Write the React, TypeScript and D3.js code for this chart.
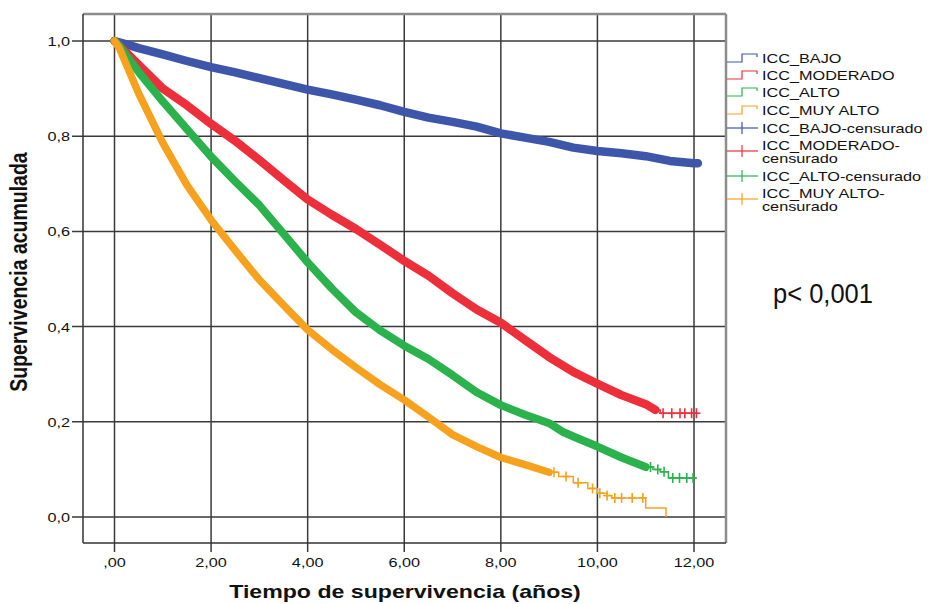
import React from "react";
import * as d3 from "d3";

// ---- data ----
const xTicks = [0, 2, 4, 6, 8, 10, 12];
const xTickLabels = [",00", "2,00", "4,00", "6,00", "8,00", "10,00", "12,00"];
const yTicks = [0, 0.2, 0.4, 0.6, 0.8, 1.0];
const yTickLabels = ["0,0", "0,2", "0,4", "0,6", "0,8", "1,0"];

const seriesNames = ["ICC_BAJO", "ICC_MODERADO", "ICC_ALTO", "ICC_MUY ALTO"];
const seriesColors = ["#3d56aa", "#ec2f3b", "#2bb24c", "#f7a21f"];

// dense part (heavily censored band): [time, survival]
const bajoBand: [number, number][] = [
  [0, 1.0], [0.25, 0.993], [0.5, 0.985], [1, 0.972], [1.5, 0.958], [2, 0.945], [2.5, 0.934],
  [3, 0.922], [3.5, 0.91], [4, 0.898], [4.5, 0.888], [5, 0.877], [5.5, 0.865], [6, 0.851],
  [6.5, 0.839], [7, 0.83], [7.5, 0.82], [8, 0.806], [8.5, 0.797], [9, 0.788], [9.5, 0.776],
  [10, 0.769], [10.5, 0.764], [11, 0.758], [11.5, 0.748], [12, 0.743], [12.08, 0.743],
];
const moderadoBand: [number, number][] = [
  [0, 1.0], [0.25, 0.975], [0.5, 0.95], [1, 0.9], [1.5, 0.865], [2, 0.826], [2.5, 0.79],
  [3, 0.75], [3.5, 0.708], [4, 0.667], [4.5, 0.635], [5, 0.605], [5.5, 0.572], [6, 0.538],
  [6.5, 0.507], [7, 0.47], [7.5, 0.436], [8, 0.408], [8.5, 0.372], [9, 0.336], [9.5, 0.305],
  [10, 0.28], [10.5, 0.256], [11, 0.237], [11.2, 0.225],
];
const altoBand: [number, number][] = [
  [0, 1.0], [0.1, 0.99], [0.5, 0.935], [1, 0.873], [1.5, 0.815], [2, 0.757], [2.5, 0.705],
  [3, 0.655], [3.5, 0.595], [4, 0.535], [4.5, 0.48], [5, 0.43], [5.5, 0.392], [6, 0.36],
  [6.5, 0.332], [7, 0.298], [7.5, 0.262], [8, 0.235], [8.5, 0.215], [9, 0.197], [9.3, 0.178],
  [9.6, 0.165], [10, 0.148], [10.5, 0.125], [11, 0.105],
];
const muyAltoBand: [number, number][] = [
  [0, 1.0], [0.1, 0.985], [0.5, 0.89], [1, 0.786], [1.5, 0.697], [2, 0.624], [2.5, 0.56],
  [3, 0.498], [3.5, 0.445], [4, 0.393], [4.5, 0.352], [5, 0.314], [5.5, 0.278], [6, 0.246],
  [6.5, 0.21], [7, 0.173], [7.5, 0.148], [8, 0.125], [8.5, 0.11], [9, 0.094],
];

// sparse tails: step points [time, survival]
const moderadoTail: [number, number][] = [[11.2, 0.225], [11.3, 0.218], [12.08, 0.218]];
const altoTail: [number, number][] = [[11, 0.105], [11.15, 0.1], [11.3, 0.095], [11.47, 0.082], [12.05, 0.082]];
const muyAltoTail: [number, number][] = [
  [9, 0.094], [9.2, 0.085], [9.5, 0.072], [9.8, 0.06], [10.0, 0.05], [10.2, 0.045],
  [10.3, 0.04], [11.0, 0.019], [11.42, 0.0], [11.42, 0.0],
];

// censored times visible in the tails
const moderadoCensor = [11.36, 11.54, 11.71, 11.81, 11.95, 12.05];
const altoCensor = [11.1, 11.25, 11.38, 11.56, 11.7, 11.85, 11.98];
const muyAltoCensor = [9.1, 9.35, 9.6, 9.9, 10.05, 10.2, 10.36, 10.5, 10.72, 10.94];

const legendLabels = [
  ["ICC_BAJO"], ["ICC_MODERADO"], ["ICC_ALTO"], ["ICC_MUY ALTO"],
  ["ICC_BAJO-censurado"], ["ICC_MODERADO-", "censurado"], ["ICC_ALTO-censurado"], ["ICC_MUY ALTO-", "censurado"],
];

// ---- layout ----
const W = 930, H = 604;
const frame = { left: 83, right: 726, top: 14, bottom: 543 };
const SX = 1.25; // horizontal stretch of the original picture's text
const FONT = "'Liberation Sans', Arial, sans-serif";

const x = d3.scaleLinear().domain([0, 12]).range([114.5, 694]);
const y = d3.scaleLinear().domain([0, 1]).range([517, 41]);

function stepValue(tail: [number, number][], t: number) {
  let v = tail[0][1];
  for (const [tt, s] of tail) if (tt <= t) v = s;
  return v;
}

const STxt = ({ x: tx, y: ty, anchor = "start", size = 13, weight = "normal", children }: any) => (
  <text
    transform={`translate(${tx},${ty}) scale(${SX},1)`}
    textAnchor={anchor}
    fontSize={size}
    fontWeight={weight}
    fontFamily={FONT}
    fill="#111"
  >
    {children}
  </text>
);

export default function App() {
  const lineLin = d3.line<[number, number]>().x((d) => x(d[0])).y((d) => y(d[1]));
  const lineStep = d3.line<[number, number]>().x((d) => x(d[0])).y((d) => y(d[1])).curve(d3.curveStepAfter);

  const bands = [bajoBand, moderadoBand, altoBand, muyAltoBand];
  const tails = [null, moderadoTail, altoTail, muyAltoTail];
  const censors = [[], moderadoCensor, altoCensor, muyAltoCensor];
  const bandWidths = [8.5, 8.5, 8, 7.5];

  const legendY = [58, 75, 92, 110, 128, 151, 176, 199];
  const lineYs = [[58], [75], [92], [110], [128], [145, 158], [176], [193, 206]];

  return (
    <svg width={W} height={H} style={{ display: "block", position: "absolute", left: 0, top: 0 }}>
      <rect x={0} y={0} width={W} height={H} fill="#fff" />
      {/* grid lines */}
      {xTicks.map((t) => (
        <line key={"gx" + t} x1={x(t)} x2={x(t)} y1={frame.top} y2={frame.bottom + 9} stroke="#3a3a3a" strokeWidth={1.5} />
      ))}
      {yTicks.map((t) => (
        <line key={"gy" + t} x1={frame.left - 11} x2={frame.right} y1={y(t)} y2={y(t)} stroke="#3a3a3a" strokeWidth={1.5} />
      ))}
      {/* frame */}
      <line x1={frame.left} x2={frame.right} y1={frame.top} y2={frame.top} stroke="#8c8c8c" strokeWidth={2.5} />
      <line x1={frame.right} x2={frame.right} y1={frame.top} y2={frame.bottom} stroke="#8c8c8c" strokeWidth={2.5} />
      <line x1={frame.left} x2={frame.left} y1={frame.top} y2={frame.bottom} stroke="#333" strokeWidth={1.5} />
      <line x1={frame.left} x2={frame.right} y1={frame.bottom} y2={frame.bottom} stroke="#333" strokeWidth={1.5} />

      {/* curves */}
      {bands.map((b, i) => (
        <g key={"s" + i}>
          <path d={lineLin(b) || ""} fill="none" stroke={seriesColors[i]} strokeWidth={bandWidths[i]} strokeLinejoin="round" strokeLinecap="round" />
          {tails[i] && (
            <path d={lineStep(tails[i] as [number, number][]) || ""} fill="none" stroke={seriesColors[i]} strokeWidth={1.5} />
          )}
          {tails[i] &&
            (censors[i] as number[]).map((c) => {
              const cx = x(c);
              const cy = y(stepValue(tails[i] as [number, number][], c));
              return (
                <g key={c} stroke={seriesColors[i]} strokeWidth={1.6}>
                  <line x1={cx - 4} x2={cx + 4} y1={cy} y2={cy} />
                  <line x1={cx} x2={cx} y1={cy - 5} y2={cy + 5} />
                </g>
              );
            })}
        </g>
      ))}

      {/* axis labels */}
      {yTicks.map((t, i) => (
        <STxt key={"yl" + t} x={70} y={y(t) + 5} anchor="end">{yTickLabels[i]}</STxt>
      ))}
      {xTicks.map((t, i) => (
        <STxt key={"xl" + t} x={x(t)} y={567} anchor="middle">{xTickLabels[i]}</STxt>
      ))}
      <STxt x={405} y={598} anchor="middle" size={18.5} weight="bold">Tiempo de supervivencia (años)</STxt>
      <text
        transform={`translate(27,272) scale(${SX},1) rotate(-90)`}
        textAnchor="middle"
        fontSize={19.5}
        fontWeight="bold"
        fontFamily={FONT}
        fill="#111"
      >
        Supervivencia acumulada
      </text>

      {/* legend */}
      {legendLabels.map((lab, i) => {
        const c = legendY[i];
        const col = seriesColors[i % 4];
        const sym =
          i < 4 ? (
            <path d={`M727,${c + 4}H742V${c - 4}H757V${c - 1}`} fill="none" stroke={col} strokeWidth={1.2} />
          ) : (
            <g stroke={col} strokeWidth={1.2}>
              <line x1={727} x2={758} y1={c} y2={c} />
              <line x1={742} x2={742} y1={c - 6} y2={c + 6} />
            </g>
          );
        return (
          <g key={"lg" + i}>
            {sym}
            {lab.map((l, j) => (
              <STxt key={j} x={762} y={lineYs[i][j] + 5}>{l}</STxt>
            ))}
          </g>
        );
      })}

      {/* p-value */}
      <text x={773} y={303} fontSize={27} fontFamily="'Liberation Sans', Arial, sans-serif" textLength={100} lengthAdjust="spacingAndGlyphs" fill="#111">
        p&lt; 0,001
      </text>
    </svg>
  );
}
